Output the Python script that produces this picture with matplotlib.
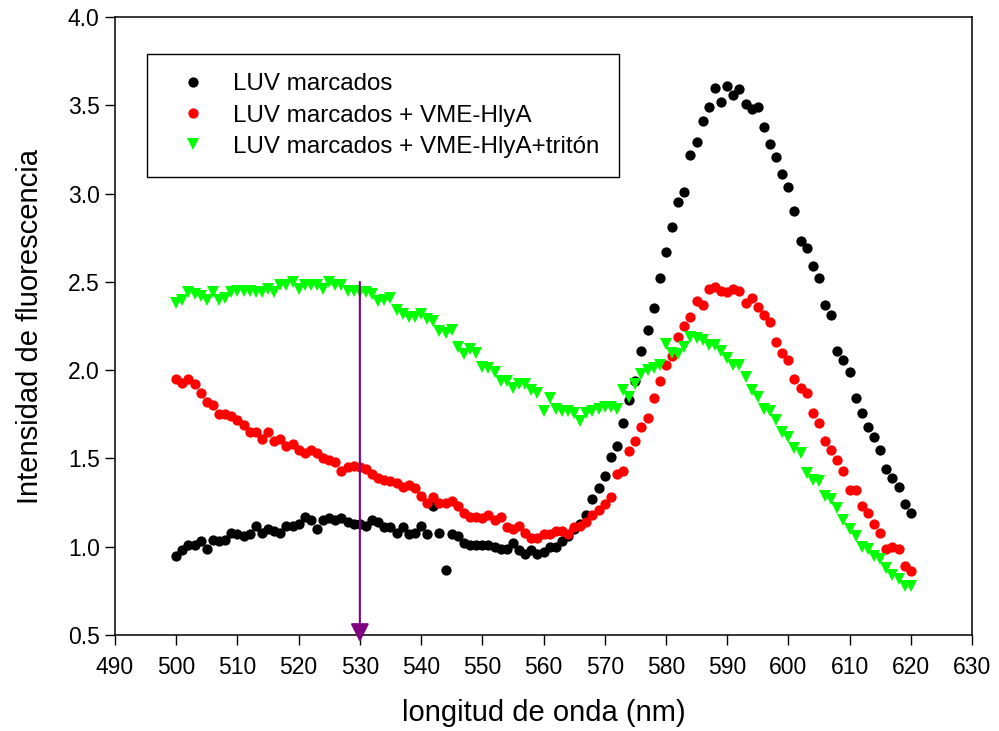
import numpy as np
import matplotlib
matplotlib.use('Agg')
import matplotlib.pyplot as plt

plt.rcParams['font.family'] = ['Liberation Sans', 'DejaVu Sans']

# wavelength (nm), one reading per nm
wavelength = list(range(500, 621))

luv = [
    0.95, 0.98, 1.01, 1.01, 1.03, 0.99, 1.04, 1.03, 1.04, 1.08,
    1.07, 1.06, 1.07, 1.12, 1.08, 1.10, 1.09, 1.08, 1.12, 1.12,
    1.13, 1.17, 1.15, 1.10, 1.15, 1.16, 1.15, 1.16, 1.14, 1.13,
    1.13, 1.12, 1.15, 1.14, 1.11, 1.11, 1.08, 1.11, 1.07, 1.08,
    1.12, 1.07, 1.23, 1.08, 0.87, 1.07, 1.06, 1.02, 1.01, 1.01,
    1.01, 1.01, 1.00, 0.99, 0.99, 1.02, 0.98, 0.96, 0.98, 0.96,
    0.97, 1.00, 1.00, 1.03, 1.06, 1.10, 1.13, 1.18, 1.27, 1.33,
    1.40, 1.51, 1.57, 1.70, 1.83, 1.94, 2.11, 2.23, 2.35, 2.52,
    2.67, 2.81, 2.95, 3.01, 3.22, 3.29, 3.41, 3.49, 3.60, 3.52,
    3.61, 3.56, 3.59, 3.51, 3.48, 3.49, 3.38, 3.28, 3.21, 3.11,
    3.04, 2.90, 2.73, 2.69, 2.59, 2.52, 2.37, 2.31, 2.11, 2.06,
    1.99, 1.84, 1.76, 1.68, 1.62, 1.55, 1.44, 1.39, 1.34, 1.24,
    1.19,
]

luv_hlya = [
    1.95, 1.93, 1.95, 1.92, 1.87, 1.82, 1.80, 1.75, 1.75, 1.74,
    1.72, 1.69, 1.65, 1.65, 1.61, 1.65, 1.60, 1.61, 1.57, 1.58,
    1.55, 1.53, 1.55, 1.53, 1.50, 1.49, 1.48, 1.43, 1.45, 1.46,
    1.45, 1.44, 1.41, 1.39, 1.38, 1.37, 1.36, 1.34, 1.35, 1.33,
    1.29, 1.25, 1.28, 1.25, 1.25, 1.26, 1.23, 1.19, 1.17, 1.17,
    1.16, 1.18, 1.15, 1.17, 1.11, 1.10, 1.12, 1.08, 1.05, 1.05,
    1.07, 1.07, 1.09, 1.09, 1.07, 1.11, 1.12, 1.14, 1.18, 1.21,
    1.24, 1.28, 1.41, 1.43, 1.54, 1.60, 1.68, 1.73, 1.84, 1.94,
    2.03, 2.08, 2.19, 2.25, 2.30, 2.39, 2.37, 2.46, 2.47, 2.45,
    2.44, 2.46, 2.45, 2.38, 2.41, 2.36, 2.31, 2.27, 2.16, 2.10,
    2.06, 1.95, 1.90, 1.87, 1.76, 1.70, 1.60, 1.55, 1.49, 1.43,
    1.32, 1.32, 1.23, 1.19, 1.13, 1.08, 0.99, 1.00, 0.99, 0.89,
    0.86,
]

luv_hlya_triton = [
    2.38, 2.40, 2.44, 2.43, 2.42, 2.40, 2.44, 2.40, 2.41, 2.44,
    2.45, 2.45, 2.45, 2.44, 2.44, 2.46, 2.44, 2.48, 2.48, 2.50,
    2.46, 2.48, 2.48, 2.48, 2.46, 2.50, 2.48, 2.48, 2.45, 2.45,
    2.44, 2.44, 2.43, 2.39, 2.40, 2.41, 2.34, 2.32, 2.30, 2.30,
    2.32, 2.29, 2.28, 2.22, 2.21, 2.23, 2.13, 2.09, 2.12, 2.10,
    2.02, 2.01, 1.99, 1.94, 1.94, 1.90, 1.92, 1.92, 1.89, 1.87,
    1.77, 1.84, 1.78, 1.77, 1.77, 1.76, 1.71, 1.76, 1.77, 1.78,
    1.79, 1.79, 1.78, 1.89, 1.85, 1.92, 1.98, 2.00, 2.01, 2.03,
    2.15, 2.10, 2.09, 2.13, 2.19, 2.18, 2.17, 2.14, 2.14, 2.11,
    2.07, 2.03, 2.03, 1.96, 1.89, 1.85, 1.78, 1.77, 1.72, 1.65,
    1.62, 1.56, 1.53, 1.42, 1.38, 1.37, 1.29, 1.27, 1.22, 1.15,
    1.10, 1.06, 1.00, 0.99, 0.95, 0.93, 0.88, 0.84, 0.82, 0.78,
    0.78,
]

labels = ['LUV marcados', 'LUV marcados + VME-HlyA', 'LUV marcados + VME-HlyA+tritón']

# excitation marker at 530 nm
arrow_x = 530
arrow_top = 2.5
arrow_bottom = 0.46

fig = plt.figure(figsize=(9.99, 7.31), dpi=100)
fig.subplots_adjust(left=0.1151, right=0.973, bottom=0.1313, top=0.9767)
ax = fig.gca()

ax.plot(wavelength, luv, 'o', color='black', markersize=7.4, markeredgewidth=0, label=labels[0])
ax.plot(wavelength, luv_hlya, 'o', color='#ff0000', markersize=7.4, markeredgewidth=0, label=labels[1])
ax.plot(wavelength, luv_hlya_triton, 'v', color='#00ff00', markersize=8.5, markeredgewidth=0, label=labels[2])

ax.annotate('', xy=(arrow_x, arrow_bottom), xytext=(arrow_x, arrow_top),
            arrowprops=dict(arrowstyle='-|>', color='#800080', lw=1.5,
                            mutation_scale=28, shrinkA=0, shrinkB=0),
            annotation_clip=False)

ax.set_xlim(490, 630)
ax.set_ylim(0.5, 4.0)
ax.set_xticks(np.arange(490, 631, 10))
ax.set_yticks(np.arange(0.5, 4.01, 0.5))
ax.set_yticklabels([f'{v:.1f}' for v in np.arange(0.5, 4.01, 0.5)])
ax.tick_params(direction='out', length=7, width=1, labelsize=16.5, colors='black')
ax.tick_params(axis='x', pad=8)
ax.tick_params(axis='y', pad=4)
for s in ax.spines.values():
    s.set_linewidth(1.1)

ax.set_xlabel('longitud de onda (nm)', fontsize=21)
ax.set_ylabel('Intensidad de fluorescencia', fontsize=21)
ax.xaxis.set_label_coords(0.5, -0.104)
ax.yaxis.set_label_coords(-0.083, 0.5)

leg = ax.legend(loc='upper left', bbox_to_anchor=(0.0373, 0.940), borderaxespad=0,
                fontsize=17.4, frameon=True, fancybox=False, framealpha=1,
                edgecolor='black', borderpad=0.8, handlelength=2.2,
                handletextpad=0.58, labelspacing=0.38, markerscale=1.0)
leg.get_frame().set_linewidth(1.0)

plt.savefig('out.png', dpi=100)
